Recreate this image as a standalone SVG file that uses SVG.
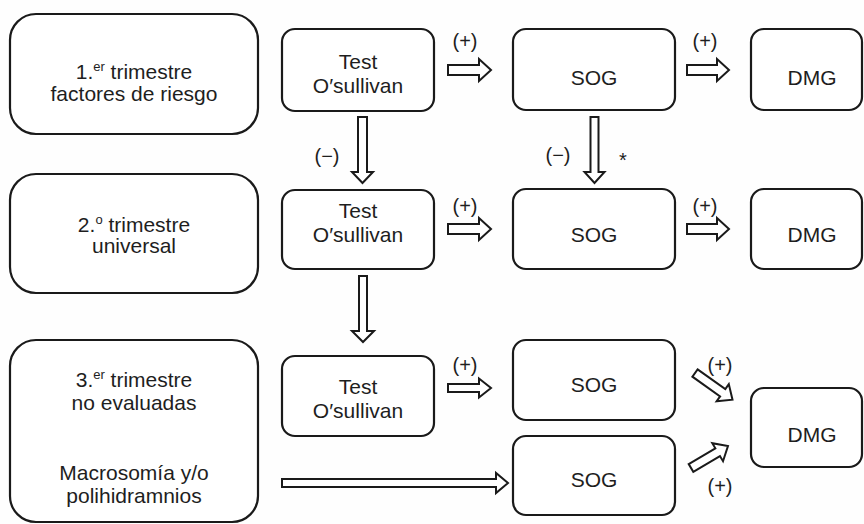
<svg xmlns="http://www.w3.org/2000/svg" width="864" height="524" viewBox="0 0 864 524">
<style>
.box{fill:#fff;stroke:#1a1a1a;stroke-width:2.2}
.arr{fill:#fff;stroke:#1a1a1a;stroke-width:2;stroke-linejoin:miter}
text{font-family:"Liberation Sans",Arial,Helvetica,sans-serif;fill:#1e1e1e}
.t{font-size:21px;text-anchor:middle}
.l{font-size:20px;text-anchor:middle}
</style>
<rect width="864" height="524" fill="#fefefe"/>
<g id="connectors">
<polygon class="arr" transform="translate(448,70)" points="0,-5 31,-5 31,-11 43,0 31,11 31,5 0,5"/>
<polygon class="arr" transform="translate(687,70)" points="0,-5 30,-5 30,-11 42,0 30,11 30,5 0,5"/>
<polygon class="arr" transform="translate(362.5,117) rotate(90)" points="0,-4.5 55,-4.5 55,-10.5 66,0 55,10.5 55,4.5 0,4.5"/>
<polygon class="arr" transform="translate(594.5,117) rotate(90)" points="0,-4 55,-4 55,-10 66,0 55,10 55,4 0,4"/>
<polygon class="arr" transform="translate(448,229)" points="0,-5 31,-5 31,-11 43,0 31,11 31,5 0,5"/>
<polygon class="arr" transform="translate(687,229)" points="0,-5 30,-5 30,-11 42,0 30,11 30,5 0,5"/>
<polygon class="arr" transform="translate(363,276) rotate(90)" points="0,-4 55,-4 55,-11 66,0 55,11 55,4 0,4"/>
<polygon class="arr" transform="translate(448,388)" points="0,-4 31,-4 31,-9.5 43,0 31,9.5 31,4 0,4"/>
<polygon class="arr" transform="translate(282,483)" points="0,-4 214,-4 214,-10 226,0 214,10 214,4 0,4"/>
<polygon class="arr" transform="translate(695,373) rotate(35.4)" points="0,-4.5 34,-4.5 34,-10.5 46,0 34,10.5 34,4.5 0,4.5"/>
<polygon class="arr" transform="translate(691,468) rotate(-30.7)" points="0,-4.5 31,-4.5 31,-10.5 43,0 31,10.5 31,4.5 0,4.5"/>
<text class="l" x="465" y="48">(+)</text>
<text class="l" x="705" y="48">(+)</text>
<text class="l" x="327" y="163">(−)</text>
<text class="l" x="558" y="162">(−)</text>
<text class="l" x="623" y="167" font-size="22">*</text>
<text class="l" x="465" y="213">(+)</text>
<text class="l" x="705" y="213">(+)</text>
<text class="l" x="465" y="372">(+)</text>
<text class="l" x="720" y="372">(+)</text>
<text class="l" x="720" y="493">(+)</text>
</g>
<g id="trim1">
<rect class="box" x="10" y="14" width="248" height="120" rx="26"/>
<text class="t" x="134" y="79">1.<tspan font-size="13" dy="-8">er</tspan><tspan dy="8"> trimestre</tspan></text>
<text class="t" x="134" y="101">factores de riesgo</text>
</g>
<g id="trim2">
<rect class="box" x="10" y="174" width="248" height="119" rx="26"/>
<text class="t" x="134" y="232">2.<tspan font-size="13" dy="-8">o</tspan><tspan dy="8"> trimestre</tspan></text>
<text class="t" x="134" y="253">universal</text>
</g>
<g id="trim3">
<rect class="box" x="10" y="340" width="248" height="182" rx="26"/>
<text class="t" x="134" y="387">3.<tspan font-size="13" dy="-8">er</tspan><tspan dy="8"> trimestre</tspan></text>
<text class="t" x="134" y="410">no evaluadas</text>
<text class="t" x="134" y="480">Macrosomía y/o</text>
<text class="t" x="134" y="503">polihidramnios</text>
</g>
<g id="test1">
<rect class="box" x="282" y="29" width="152" height="82" rx="13"/>
<text class="t" x="358" y="69">Test</text>
<text class="t" x="358" y="93">O′sullivan</text>
</g>
<g id="test2">
<rect class="box" x="282" y="190" width="152" height="79" rx="13"/>
<text class="t" x="358" y="218">Test</text>
<text class="t" x="358" y="242">O′sullivan</text>
</g>
<g id="test3">
<rect class="box" x="282" y="356" width="152" height="80" rx="13"/>
<text class="t" x="358" y="394">Test</text>
<text class="t" x="358" y="418">O′sullivan</text>
</g>
<g id="sog1">
<rect class="box" x="513" y="29" width="162" height="81" rx="13"/>
<text class="t" x="594" y="85">SOG</text>
</g>
<g id="sog2">
<rect class="box" x="513" y="189" width="162" height="80" rx="13"/>
<text class="t" x="594" y="242">SOG</text>
</g>
<g id="sog3">
<rect class="box" x="513" y="340" width="162" height="80" rx="13"/>
<text class="t" x="594" y="392">SOG</text>
</g>
<g id="sog4">
<rect class="box" x="513" y="436" width="162" height="79" rx="13"/>
<text class="t" x="594" y="487">SOG</text>
</g>
<g id="dmg1">
<rect class="box" x="751" y="29" width="111" height="81" rx="13"/>
<text class="t" x="812" y="85">DMG</text>
</g>
<g id="dmg2">
<rect class="box" x="751" y="189" width="111" height="80" rx="13"/>
<text class="t" x="812" y="242">DMG</text>
</g>
<g id="dmg3">
<rect class="box" x="751" y="388" width="111" height="79" rx="13"/>
<text class="t" x="812" y="442">DMG</text>
</g>
</svg>
